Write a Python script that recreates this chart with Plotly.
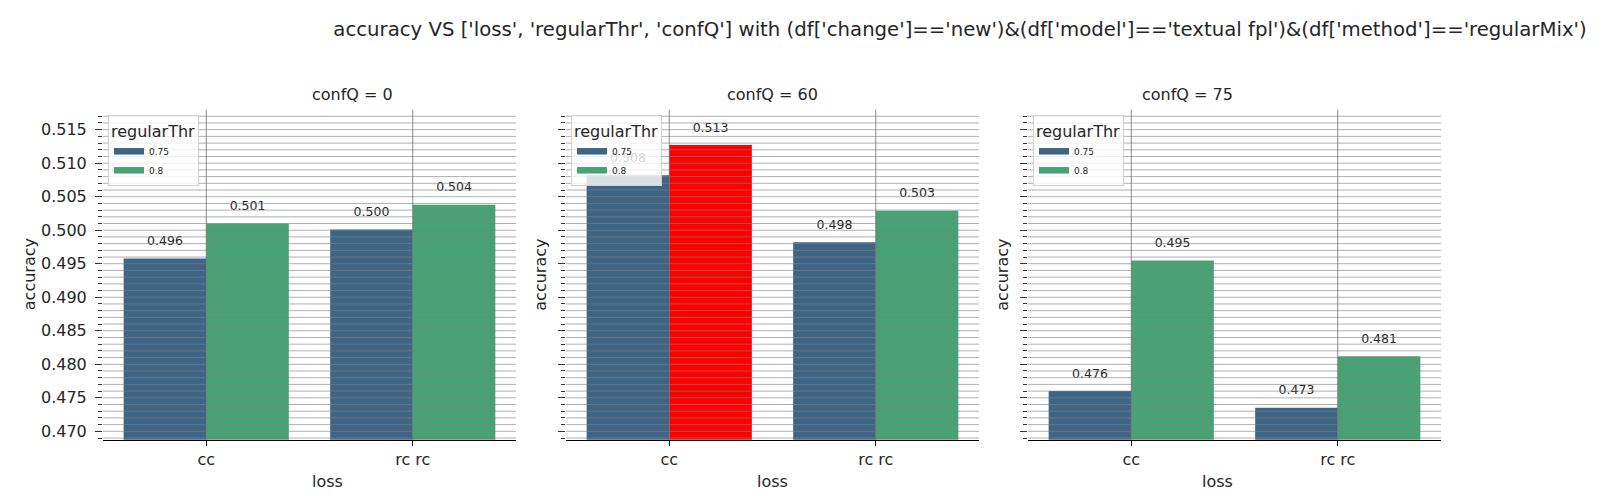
import numpy as np
import plotly.graph_objects as go

# ---------------- data ----------------
loss_labels = ['cc', 'rc rc']
conf_q = [0, 60, 75]
regular_thr = ['0.75', '0.8']

acc_q0_t075 = [0.4958, 0.5001]
acc_q0_t08 = [0.5010, 0.5038]
acc_q60_t075 = [0.5082, 0.4982]
acc_q60_t08 = [0.5127, 0.5029]
acc_q75_t075 = [0.4760, 0.4735]
acc_q75_t08 = [0.4955, 0.4812]

panel_values = [
    [acc_q0_t075, acc_q0_t08],
    [acc_q60_t075, acc_q60_t08],
    [acc_q75_t075, acc_q75_t08],
]

title_text = ("accuracy VS ['loss', 'regularThr', 'confQ'] with (df['change']=='new')"
              "&(df['model']=='textual fpl')&(df['method']=='regularMix')")

# ---------------- style ----------------
W, H = 1601, 496
FONT = 'DejaVu Sans'
TXT = '#262626'
thr_colors = ['#3d6586', '#46a474']
HIGHLIGHT = '#ff0000'
GRID = 'rgba(128,128,128,0.62)'
bar_w = 0.4
y_range = [0.46875, 0.51798]

panel_px = [(95, 508), (558, 971), (1020, 1433)]
y_top_px, y_bot_px = 101.7, 431.7
y_dom = [1 - y_bot_px / H, 1 - y_top_px / H]

global_max = max(v for panel in panel_values for series in panel for v in series)

fig = go.Figure()
annotations = []
shapes = []
cat_idx = np.arange(len(loss_labels))

for p, (q, series_list) in enumerate(zip(conf_q, panel_values)):
    ax = '' if p == 0 else str(p + 1)
    xa, ya = 'x' + ax, 'y' + ax
    leg = 'legend' if p == 0 else 'legend' + str(p + 1)
    n_s = len(series_list)
    for j, (thr, vals) in enumerate(zip(regular_thr, series_list)):
        xpos = cat_idx + (j - (n_s - 1) / 2) * bar_w
        colors = [HIGHLIGHT if v == global_max else thr_colors[j] for v in vals]
        fig.add_trace(go.Bar(
            x=xpos, y=vals, width=bar_w, marker=dict(color=colors, line=dict(width=0)),
            xaxis=xa, yaxis=ya, showlegend=False, name=thr, hoverinfo='x+y'))
        # value labels (in trace layer, below legends)
        fig.add_trace(go.Scatter(
            x=xpos, y=vals, mode='markers+text', text=[f'{v:.3f}' for v in vals],
            textposition='top center', cliponaxis=False,
            marker=dict(size=15, color='rgba(0,0,0,0)'),
            textfont=dict(size=12.5, color=TXT, family=FONT),
            xaxis=xa, yaxis=ya, showlegend=False, hoverinfo='skip'))
        # legend entry
        fig.add_trace(go.Scatter(
            x=[None], y=[None], mode='lines', line=dict(color=thr_colors[j], width=6.5),
            name=thr, xaxis=xa, yaxis=ya, showlegend=True, legend=leg))

    x0, x1 = panel_px[p]
    dom = [x0 / W, x1 / W]
    fig.layout['xaxis' + ax] = dict(
        domain=dom, range=[-0.5, len(loss_labels) - 0.5], anchor=ya,
        tickvals=list(cat_idx), ticktext=loss_labels, ticks='outside', ticklen=5,
        tickcolor='#000', tickwidth=1, showline=True, linecolor='#000', linewidth=1.3,
        showgrid=False, zeroline=False, tickfont=dict(size=16, color=TXT, family=FONT))
    fig.layout['yaxis' + ax] = dict(
        domain=y_dom, range=y_range, anchor=xa, dtick=0.005, tick0=0.47,
        tickformat='.3f', ticks='outside', ticklen=7, tickcolor='#333', tickwidth=1,
        ticklabelstandoff=5,
        showticklabels=(p == 0), showline=False, showgrid=False, zeroline=False,
        minor=dict(dtick=0.001, ticks='outside', ticklen=4, tickcolor='#333', showgrid=False),
        tickfont=dict(size=16, color=TXT, family=FONT))

    # grid drawn above bars
    for gv in np.arange(0.469, 0.5175, 0.001):
        shapes.append(dict(type='line', xref=xa + ' domain', yref=ya, x0=0, x1=1,
                           y0=gv, y1=gv, layer='above', line=dict(color=GRID, width=1)))
    for cx in cat_idx:
        shapes.append(dict(type='line', xref=xa, yref=ya + ' domain', x0=cx, x1=cx,
                           y0=0, y1=1, layer='above', line=dict(color='rgba(110,110,110,0.8)', width=1)))

    cx_mid = (x0 + x1) / 2
    annotations.append(dict(x=cx_mid / W, y=1 - 86.7 / H, xref='paper', yref='paper',
                            text=f'confQ = {q}', showarrow=False, yanchor='middle',
                            font=dict(size=16, color=TXT, family=FONT)))
    annotations.append(dict(x=cx_mid / W, y=1 - 473 / H, xref='paper', yref='paper',
                            text='loss', showarrow=False, yanchor='middle',
                            font=dict(size=16, color=TXT, family=FONT)))
    ylab_x = [21.5, 533, 995][p]
    annotations.append(dict(x=ylab_x / W, y=1 - (y_top_px + y_bot_px) / 2 / H,
                            xref='paper', yref='paper', text='accuracy', textangle=-90,
                            showarrow=False, xanchor='center', yanchor='middle',
                            font=dict(size=16, color=TXT, family=FONT)))

    fig.layout[leg] = dict(
        x=(x0 + 5) / W, y=1 - 107 / H, xanchor='left', yanchor='top',
        bgcolor='rgba(255,255,255,0.8)', bordercolor='#d0d0d0', borderwidth=1,
        title=dict(text='regularThr', font=dict(size=16, color=TXT, family=FONT)),
        font=dict(size=9, color=TXT, family=FONT), itemwidth=30, tracegroupgap=0)

fig.update_layout(
    width=W, height=H, margin=dict(l=0, r=0, t=0, b=0),
    paper_bgcolor='white', plot_bgcolor='white',
    barmode='overlay',
    title=dict(text=title_text, x=952 / W, xanchor='center', y=1 - 21 / H, yanchor='middle',
               yref='container', font=dict(size=19.7, color=TXT, family=FONT)),
    annotations=annotations, shapes=shapes, showlegend=True,
    font=dict(family=FONT, color=TXT))

fig.write_html('out.html')
